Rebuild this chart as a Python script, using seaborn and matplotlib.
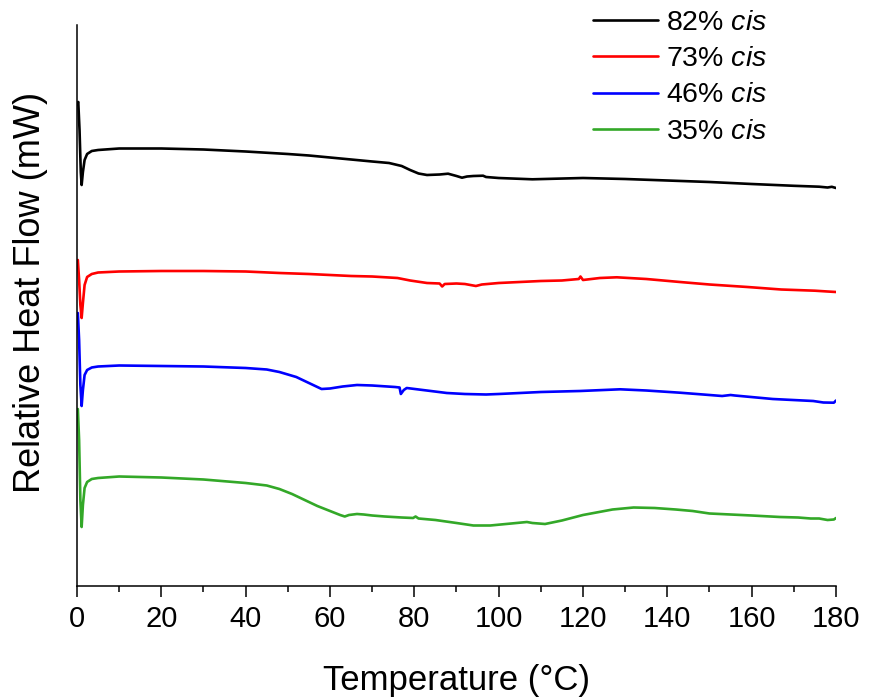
import numpy as np
import pandas as pd
import matplotlib
matplotlib.use("Agg")
import matplotlib.pyplot as plt
import seaborn as sns

# ---- data (relative heat flow, arbitrary offset units) ----
t_82 = [0, 0.3, 0.6, 0.9, 1.1, 1.4, 1.8, 2.4, 3.5, 5, 10, 20, 30, 40, 50, 55, 60, 65, 70, 74, 77, 79,
        81, 83, 86, 88, 90, 91.3, 92.5, 94, 96.3, 97, 100, 108, 120, 130, 140, 150, 160, 170, 176, 178, 179, 180]
hf_82 = [4.82, 4.84, 4.56, 4.14, 4.01, 4.14, 4.26, 4.32, 4.35, 4.36, 4.375, 4.375, 4.365, 4.345, 4.32, 4.305,
         4.285, 4.265, 4.245, 4.23, 4.20, 4.16, 4.125, 4.11, 4.115, 4.123, 4.10, 4.083, 4.095, 4.10, 4.103, 4.09,
         4.08, 4.067, 4.08, 4.07, 4.055, 4.04, 4.02, 4.002, 3.993, 3.985, 3.992, 3.98]

t_73 = [0, 0.2, 0.5, 0.8, 1.1, 1.4, 1.8, 2.4, 3.5, 5, 10, 20, 30, 40, 48, 55, 60, 65, 70, 76, 79, 83, 86,
        86.6, 87.2, 90, 92, 94.6, 96, 100, 105, 110, 115, 119, 119.4, 120, 124, 128, 135, 143, 150, 159, 167,
        175, 178, 180]
hf_73 = [3.24, 3.26, 3.06, 2.81, 2.68, 2.83, 3.01, 3.09, 3.12, 3.135, 3.145, 3.15, 3.15, 3.145, 3.13, 3.12,
         3.11, 3.10, 3.095, 3.08, 3.055, 3.03, 3.025, 2.995, 3.02, 3.025, 3.02, 3.00, 3.015, 3.03, 3.04, 3.05,
         3.055, 3.07, 3.095, 3.06, 3.08, 3.087, 3.07, 3.04, 3.015, 2.99, 2.965, 2.953, 2.945, 2.94]

t_46 = [0, 0.2, 0.5, 0.8, 1.1, 1.4, 1.8, 2.4, 3.5, 5, 10, 20, 30, 40, 45, 48, 52, 55, 58, 60, 63, 66.4, 70,
        75.4, 76.5, 76.8, 77.5, 78.2, 82, 87.7, 92, 97, 100, 110, 119.3, 128.8, 135, 143, 150, 153, 155, 156,
        165, 174.6, 177, 179.5, 180]
hf_46 = [2.72, 2.73, 2.46, 2.01, 1.80, 1.96, 2.11, 2.16, 2.185, 2.195, 2.205, 2.20, 2.195, 2.18, 2.165, 2.14,
         2.09, 2.03, 1.97, 1.975, 1.995, 2.01, 2.005, 1.99, 1.985, 1.92, 1.96, 1.98, 1.96, 1.93, 1.92, 1.915,
         1.92, 1.94, 1.95, 1.967, 1.955, 1.933, 1.91, 1.90, 1.91, 1.905, 1.87, 1.85, 1.835, 1.833, 1.855]

t_35 = [0, 0.2, 0.5, 0.8, 1.1, 1.4, 1.8, 2.4, 3.5, 5, 10, 20, 30, 40, 45, 48, 51, 54, 57, 60, 62.4, 63.5,
        64.5, 66.4, 68, 70, 73, 77, 79.7, 80.3, 81, 85, 90, 94, 98, 103, 106.7, 108, 111, 115, 120, 127, 132,
        137, 142, 146, 150, 155, 160, 166.7, 171, 174, 176, 178, 179.5, 180]
hf_35 = [1.76, 1.77, 1.46, 0.86, 0.59, 0.81, 0.98, 1.04, 1.07, 1.08, 1.095, 1.085, 1.065, 1.03, 1.005, 0.97,
         0.92, 0.86, 0.80, 0.75, 0.71, 0.695, 0.71, 0.72, 0.715, 0.705, 0.695, 0.685, 0.68, 0.695, 0.675, 0.66,
         0.63, 0.605, 0.605, 0.625, 0.64, 0.63, 0.62, 0.655, 0.71, 0.765, 0.785, 0.78, 0.765, 0.75, 0.725,
         0.715, 0.705, 0.69, 0.685, 0.675, 0.675, 0.66, 0.665, 0.68]

series_names = ["82% cis", "73% cis", "46% cis", "35% cis"]
legend_labels = [r"82% $\mathit{cis}$", r"73% $\mathit{cis}$", r"46% $\mathit{cis}$", r"35% $\mathit{cis}$"]
colors = ["#000000", "#ff0000", "#0000ff", "#33a828"]
x_ticks = [0, 20, 40, 60, 80, 100, 120, 140, 160, 180]

frames = []
for name, t, hf in zip(series_names, [t_82, t_73, t_46, t_35], [hf_82, hf_73, hf_46, hf_35]):
    frames.append(pd.DataFrame({"T": t, "HF": hf, "sample": name}))
df = pd.concat(frames, ignore_index=True)

sns.set_theme(style="ticks")
plt.rcParams["font.family"] = ["Liberation Sans", "DejaVu Sans"]
plt.rcParams["mathtext.fontset"] = "custom"
plt.rcParams["mathtext.it"] = "Liberation Sans:italic"
plt.rcParams["mathtext.rm"] = "Liberation Sans"
plt.rcParams["text.color"] = "black"
plt.rcParams["axes.labelcolor"] = "black"
plt.rcParams["xtick.color"] = "black"
plt.rcParams["ytick.color"] = "black"

fig = plt.figure(figsize=(8.7, 6.98), dpi=100)
ax = fig.add_axes([77 / 870, 1 - 586 / 698, (836 - 77) / 870, (586 - 25) / 698])

sns.lineplot(data=df, x="T", y="HF", hue="sample", hue_order=series_names,
             palette=colors, sort=False, estimator=None, linewidth=1.9, ax=ax)

ax.set_xlim(0, 180)
ax.set_ylim(0, 5.61)
ax.set_xticks(x_ticks)
ax.set_xticks(np.arange(10, 180, 20), minor=True)
ax.set_yticks([])
ax.tick_params(axis="x", which="major", length=8, width=1.1, labelsize=21, pad=6,
               color="black", labelcolor="black")
ax.tick_params(axis="x", which="minor", length=4.5, width=1.1, color="black")
for s in ["top", "right"]:
    ax.spines[s].set_visible(False)
for s in ["left", "bottom"]:
    ax.spines[s].set_color("black")
    ax.spines[s].set_linewidth(1.1)

ax.set_xlabel("Temperature (°C)", fontsize=25, labelpad=22, color="black")
ax.set_ylabel("Relative Heat Flow (mW)", fontsize=26, color="black")
ax.yaxis.set_label_coords(-0.038, 0.524)

handles, _ = ax.get_legend_handles_labels()
ax.legend(handles, legend_labels, loc="upper left", bbox_to_anchor=(593 / 870, 1 - 10 / 698),
          bbox_transform=fig.transFigure, frameon=False, fontsize=20.5, handlelength=2.27,
          handletextpad=0.3, labelspacing=0.36, borderpad=0, borderaxespad=0)

fig.savefig("out.png", dpi=100, facecolor="white")
